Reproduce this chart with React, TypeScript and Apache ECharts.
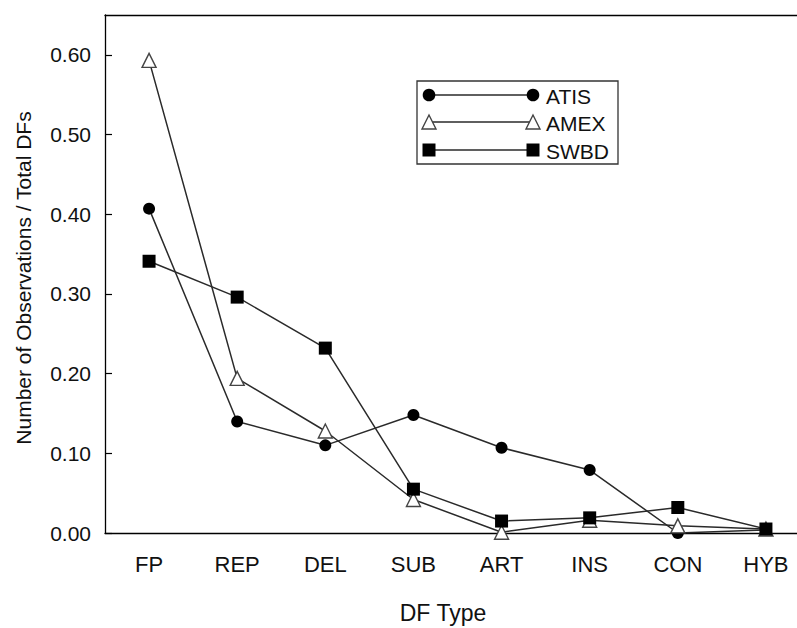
import React, { useEffect, useRef } from "react";
import * as echarts from "echarts";

const categories = ["FP", "REP", "DEL", "SUB", "ART", "INS", "CON", "HYB"];
const atis = [0.407, 0.14, 0.11, 0.148, 0.107, 0.079, 0.0, 0.004];
const amex = [0.593, 0.194, 0.128, 0.042, 0.001, 0.016, 0.009, 0.005];
const swbd = [0.341, 0.296, 0.232, 0.055, 0.015, 0.019, 0.032, 0.005];
const seriesNames = ["ATIS", "AMEX", "SWBD"];
const yTicks = { min: 0, max: 0.65, interval: 0.1 };

const FONT = "Liberation Sans, Arial, Helvetica, sans-serif";

export default function App() {
  const ref = useRef<HTMLDivElement>(null);
  useEffect(() => {
    document.body.style.margin = "0";
    const chart = echarts.init(ref.current!, null, { renderer: "svg" });
    const lineColor = "#2a2a2a";
    const legendX0 = 429;
    const legendX1 = 533;
    const rowY = [95, 122, 150];
    const tri = (cx: number, cy: number, s: number) => [
      [cx, cy - s / 2],
      [cx + s / 2, cy + s / 2],
      [cx - s / 2, cy + s / 2],
    ];
    const legendGraphics: any[] = [
      {
        type: "rect",
        shape: { x: 417, y: 81, width: 201, height: 83 },
        style: { fill: "#fff", stroke: "#333", lineWidth: 1.3 },
        z: 100,
      },
    ];
    seriesNames.forEach((name, i) => {
      const y = rowY[i];
      legendGraphics.push({
        type: "line",
        shape: { x1: legendX0, y1: y, x2: legendX1, y2: y },
        style: { stroke: lineColor, lineWidth: 1.4 },
        z: 101,
      });
      [legendX0, legendX1].forEach((x) => {
        if (i === 0) {
          legendGraphics.push({
            type: "circle",
            shape: { cx: x, cy: y, r: 6.3 },
            style: { fill: "#000" },
            z: 102,
          });
        } else if (i === 1) {
          legendGraphics.push({
            type: "polygon",
            shape: { points: tri(x, y, 14) },
            style: { fill: "#fff", stroke: "#444", lineWidth: 1.4 },
            z: 102,
          });
        } else {
          legendGraphics.push({
            type: "rect",
            shape: { x: x - 6.5, y: y - 6.5, width: 13, height: 13 },
            style: { fill: "#000" },
            z: 102,
          });
        }
      });
      legendGraphics.push({
        type: "text",
        x: 546,
        y: y + 1,
        style: {
          text: name,
          fill: "#111",
          font: `21px ${FONT}`,
          verticalAlign: "middle",
          align: "left",
        },
        z: 102,
      });
    });

    const base = {
      type: "line",
      xAxisIndex: 0,
      yAxisIndex: 0,
      lineStyle: { color: lineColor, width: 1.5 },
      emphasis: { disabled: true },
    };

    chart.setOption({
      animation: false,
      backgroundColor: "#fff",
      grid: { left: 105, top: 15, width: 705, height: 518, containLabel: false, outerBoundsMode: "none" },
      xAxis: [
        {
          type: "category",
          data: categories,
          position: "bottom",
          axisLine: { lineStyle: { color: "#000", width: 1.3 } },
          axisTick: { inside: true, length: 7, alignWithLabel: true, lineStyle: { color: "#000", width: 1.2 } },
          axisLabel: { color: "#111", fontSize: 22, fontFamily: FONT, margin: 20 },
          splitLine: { show: false },
        },
        {
          type: "category",
          data: categories,
          position: "top",
          axisLine: { lineStyle: { color: "#000", width: 1.3 } },
          axisTick: { inside: true, length: 8, alignWithLabel: true, lineStyle: { color: "#000", width: 1.2 } },
          axisLabel: { show: false },
          splitLine: { show: false },
        },
      ],
      yAxis: {
        type: "value",
        min: yTicks.min,
        max: yTicks.max,
        interval: yTicks.interval,
        axisLine: { show: true, lineStyle: { color: "#000", width: 1.3 } },
        axisTick: { show: true, inside: true, length: 7, lineStyle: { color: "#000", width: 1.2 } },
        axisLabel: {
          color: "#111",
          fontSize: 21,
          fontFamily: FONT,
          margin: 14,
          showMaxLabel: false,
          formatter: (v: number) => v.toFixed(2),
        },
        splitLine: { show: false },
      },
      series: [
        {
          ...base,
          name: seriesNames[0],
          data: atis,
          symbol: "circle",
          symbolSize: 12,
          itemStyle: { color: "#000" },
          z: 3,
        },
        {
          ...base,
          name: seriesNames[1],
          data: amex,
          symbol: "triangle",
          symbolSize: 14,
          itemStyle: { color: "#fff", borderColor: "#444", borderWidth: 1.4 },
          z: 4,
        },
        {
          ...base,
          name: seriesNames[2],
          data: swbd,
          symbol: "rect",
          symbolSize: 13,
          itemStyle: { color: "#000" },
          z: 5,
        },
      ],
      graphic: [
        {
          type: "text",
          x: 443,
          y: 613,
          style: {
            text: "DF Type",
            fill: "#111",
            font: `23px ${FONT}`,
            align: "center",
            verticalAlign: "middle",
          },
        },
        {
          type: "text",
          x: 23,
          y: 278,
          rotation: Math.PI / 2,
          style: {
            text: "Number of Observations / Total DFs",
            fill: "#111",
            font: `21px ${FONT}`,
            align: "center",
            verticalAlign: "middle",
          },
        },
        ...legendGraphics,
      ],
    });
    return () => chart.dispose();
  }, []);
  return (
    <div style={{ position: "absolute", left: 0, top: 0, width: 797, height: 628, overflow: "hidden" }}>
      <div ref={ref} style={{ position: "absolute", left: 0, top: 0, width: 830, height: 628 }} />
    </div>
  );
}
